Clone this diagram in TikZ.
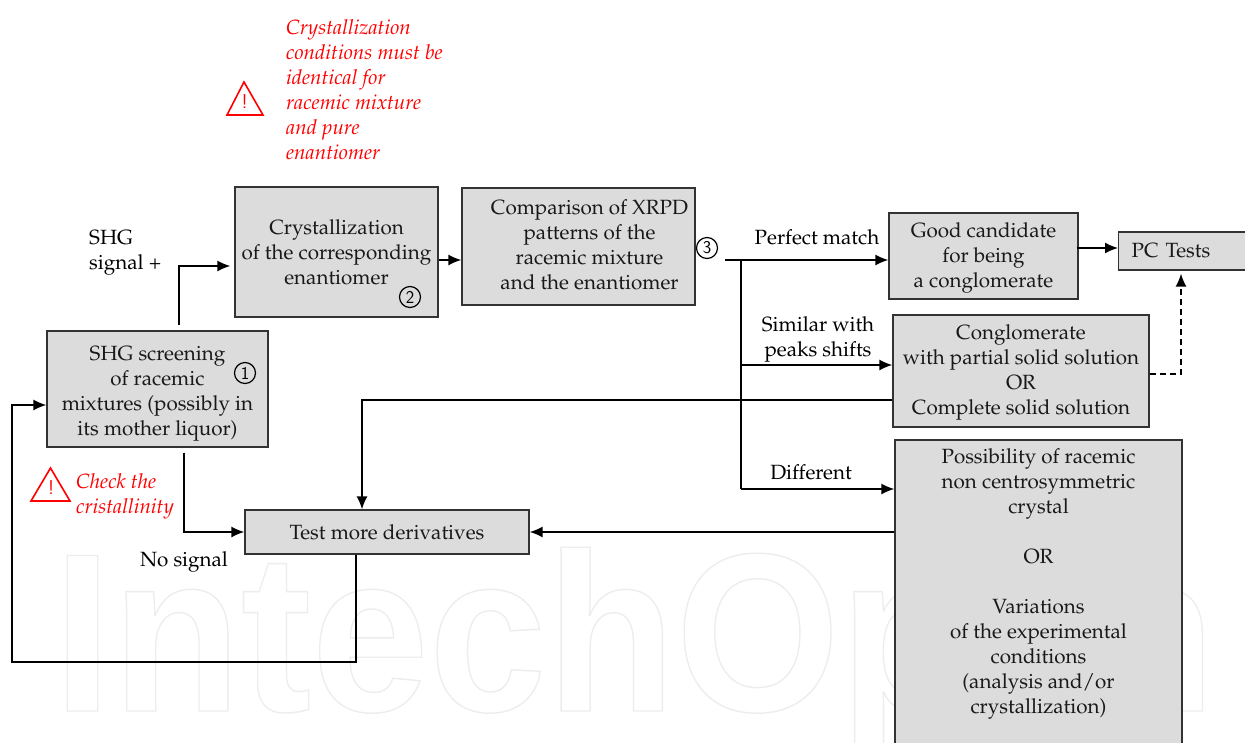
\documentclass[tikz,border=0pt]{standalone}
\usepackage[T1,TU]{fontenc}
\usepackage{fontspec}
\usepackage{tikz}
\usetikzlibrary{arrows.meta,positioning,calc}
\newfontfamily\markfont{Liberation Sans}
\newcommand{\palfont}{\fontencoding{T1}\fontfamily{ppl}\fontsize{20.6}{25}\selectfont}
\definecolor{boxgray}{HTML}{DCDCDC}

\begin{document}
\begin{tikzpicture}[x=1pt, y=-1pt,
    every node/.style={font=\palfont, align=center, inner sep=0pt},
    box/.style={draw=black!80, line width=1.3pt, fill=boxgray, text=black!90},
    flow/.style={draw=black, line width=1.5pt, -{Latex[length=13pt,width=11pt]}},
    plainflow/.style={draw=black, line width=1.5pt},
    dashflow/.style={flow, dash pattern=on 6pt off 4pt},
    warn/.style={text=red, align=left, anchor=west, font=\palfont\itshape},
    warntri/.style={draw=red, line width=1.6pt, line join=miter},
    warnmark/.style={text=red, font=\sffamily\fontsize{20}{20}\selectfont},
    tag/.style={text=black},
    stepno/.style={draw=black, circle, line width=1.2pt, minimum size=21pt, font=\sffamily\fontsize{18}{18}\selectfont}]
    \useasboundingbox (0,0) rectangle (1245,742);
    \fill[white] (0,0) rectangle (1245,742);

    % watermark, outlined letters
    \node[anchor=base west, transform shape, xscale=0.935, font=\markfont\bfseries\fontsize{226}{226}\selectfont] (mark) at (53,711)
        {\special{pdf:code q 1 Tr 1.4 w 0.93 G}IntechOpen\special{pdf:code Q}};

    % boxes
    \node[box, minimum width=221pt, minimum height=116pt] (screen) at (157.5,389)
        {\rule{0pt}{23pt}SHG screening\\of racemic\\mixtures (possibly in\\its mother liquor)};
    \node[box, minimum width=203pt, minimum height=130pt] (cryst) at (336.5,252)
        {Crystallization\\of the corresponding\\enantiomer};
    \node[box, minimum width=233pt, minimum height=117pt] (xrpd) at (578.5,246.5)
        {\hspace*{22pt}\begin{tabular}{@{}c@{}}\rule{0pt}{17pt}Comparison of XRPD\\patterns of the\\racemic mixture\\and the enantiomer\end{tabular}};
    \node[box, minimum width=189pt, minimum height=86pt] (good) at (983.5,256)
        {\rule{0pt}{19pt}Good candidate\\for being\\a conglomerate};
    \node[box, anchor=west, minimum height=38pt, text width=125pt, inner xsep=13pt, align=left] (pc) at (1118,251) {PC Tests};
    \node[box, minimum width=256pt, minimum height=112pt] (cong) at (1021,371)
        {\rule{0pt}{17pt}Conglomerate\\with partial solid solution\\OR\\Complete solid solution};
    \node[box, minimum width=284pt, minimum height=44pt] (test) at (387,532) {Test more derivatives};
    \node[box, minimum width=287pt, minimum height=332pt] (poss) at (1038.5,606)
        {Possibility of racemic\\non centrosymmetric\\crystal\\ \\OR\\ \\Variations\\of the experimental\\conditions\\(analysis and/or\\crystallization)\\ \\ };

    % step numbers
    \node[stepno] (one) at (245,373) {1};
    \node[stepno] (two) at (410,297) {2};
    \node[stepno] (three) at (707,248) {3};

    % warnings
    \draw[warntri] (244,82) -- (263,115) -- (227,115) -- cycle;
    \node[warnmark] (warnone) at (244.5,102) {!};
    \node[warn] (condnote) at (286,89.5) {Crystallization\\conditions must be\\identical for\\racemic mixture\\and pure\\enantiomer};
    \draw[warntri] (50.5,468) -- (70,501) -- (31,501) -- cycle;
    \node[warnmark] (warntwo) at (51,488) {!};
    \node[warn] (checknote) at (76,496.5) {Check the\\cristallinity};

    % labels
    \node[tag, align=left, anchor=west] (shg) at (89,253) {SHG\\signal +};
    \node[tag] (perfect) at (817,237) {Perfect match};
    \node[tag] (similar) at (818,339) {Similar with\\peaks shifts};
    \node[tag] (different) at (811,472) {Different};
    \node[tag] (nosignal) at (184,562) {No signal};

    % helper points
    \coordinate (xrpdout) at (725,260);
    \coordinate (fork) at (741,260);
    \coordinate (forkend) at (741,489);

    % connectors
    \draw[flow] ([xshift=21.5pt,yshift=5pt]screen.north) |- ([xshift=-4pt]cryst.west |- 0,266);
    \draw[flow] (cryst.east |- 0,260) -- (xrpd.west |- 0,260);
    \draw[flow] (xrpdout) -- (xrpdout -| good.west);
    \draw[plainflow] (fork) -- (forkend);
    \draw[flow] (fork |- 0,365) -- (cong.west |- 0,365);
    \draw[flow] (forkend) -- (poss.west |- forkend);
    \draw[flow] (cong.west |- 0,400) -| (test.north -| 362,0);
    \draw[flow] (poss.west |- test.east) -- (test.east);
    \draw[flow] ([xshift=26.5pt,yshift=-5pt]screen.south) |- (test.west);
    \draw[flow] (test.south -| 356,0) |- (12,662) |- (screen.west |- 0,405);
    \draw[flow] ([xshift=-2pt]good.east |- 0,248) -- (pc.west |- 0,248);
    \draw[dashflow] (cong.east |- 0,374) -| ([yshift=-3pt]pc.south -| 1181,0);
\end{tikzpicture}
\end{document}
